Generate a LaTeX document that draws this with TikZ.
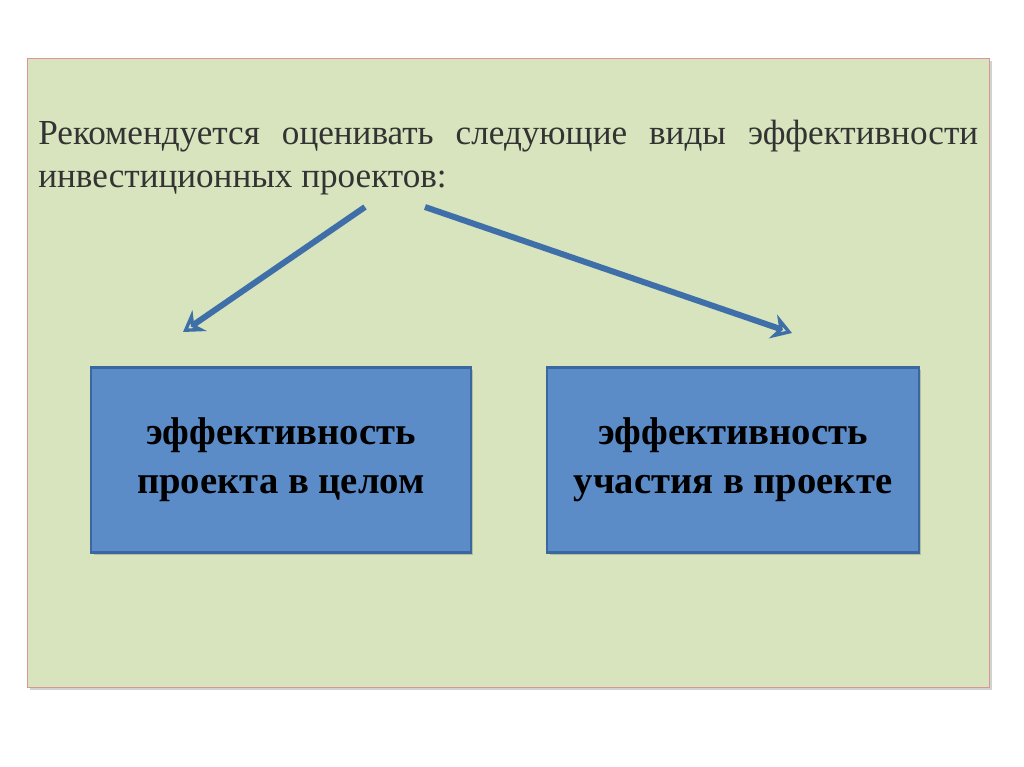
\documentclass[tikz,border=0pt]{standalone}
\usepackage{fontspec}
\setmainfont{Liberation Serif}
\usetikzlibrary{arrows.meta,positioning,shadows}
\definecolor{panelfill}{HTML}{D7E4BD}
\definecolor{panelline}{HTML}{D99694}
\definecolor{arrowblue}{HTML}{3F6FA8}
\definecolor{boxfill}{HTML}{5B8CC8}
\definecolor{boxline}{HTML}{3A679E}
\tikzset{
  kindbox/.style={draw=boxline, line width=1.2pt, fill=boxfill,
    minimum height=3.7cm, align=center, font=\fontsize{22}{28}\selectfont\bfseries,
    drop shadow={shadow xshift=0.5mm, shadow yshift=-0.5mm, opacity=0.4}},
  flowarrow/.style={-{Stealth[length=4mm,width=5mm,open]}, line width=1.2mm, color=arrowblue}
}
\begin{document}
\begin{tikzpicture}[x=0.02cm,y=-0.02cm]
\useasboundingbox (0,0) rectangle (1024,767);
\fill[white] (0,0) rectangle (1024,767);

%background panel
\draw[panelline, fill=panelfill, drop shadow={shadow xshift=0.6mm, shadow yshift=-0.6mm, opacity=0.35}]
  (27,58) rectangle (989,687);

%heading
\node[text width=18.8cm, align=justify, anchor=north west, inner sep=0pt,
  font=\fontsize{20}{24.5}\selectfont, text=black!80] (head) at (38,120)
  {Рекомендуется оценивать следующие виды эффективности инвестиционных проектов:};

%boxes
\node[kindbox, minimum width=7.6cm] (whole) at (281,460) {эффективность\\проекта в целом};
\node[kindbox, minimum width=7.44cm] (part) at (733,460) {эффективность\\участия в проекте};

%arrows
\coordinate (leftstart) at (365,207);
\coordinate (leftend) at (183,332);
\coordinate (rightstart) at (425,207);
\coordinate (rightend) at (792,333);
\draw[flowarrow] (leftstart) -- (leftend);
\draw[flowarrow] (rightstart) -- (rightend);
\end{tikzpicture}
\end{document}
